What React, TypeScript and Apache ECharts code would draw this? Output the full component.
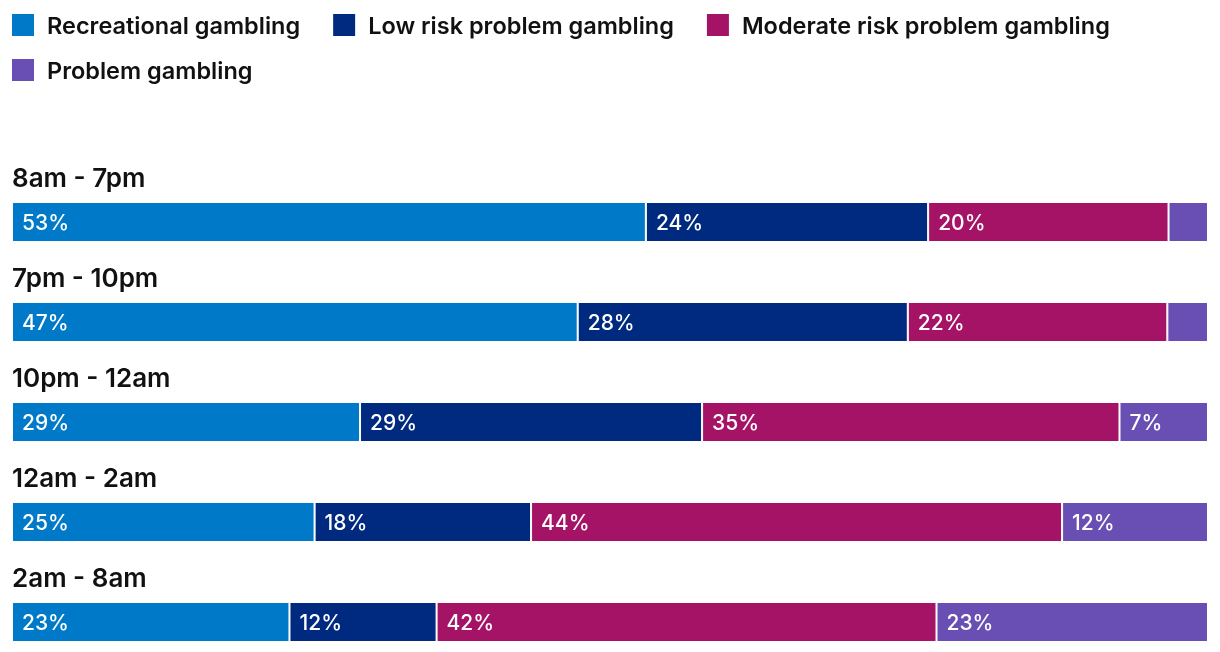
import React, { useEffect, useRef } from "react";
import * as echarts from "echarts";

const categories = ["8am - 7pm", "7pm - 10pm", "10pm - 12am", "12am - 2am", "2am - 8am"];
const seriesNames = [
  "Recreational gambling",
  "Low risk problem gambling",
  "Moderate risk problem gambling",
  "Problem gambling",
];
const recreational = [53.0, 47.3, 29.1, 25.3, 23.2];
const lowRisk = [23.6, 27.6, 28.6, 18.1, 12.3];
const moderateRisk = [20.1, 21.7, 34.9, 44.4, 41.8];
const problem = [3.3, 3.4, 7.4, 12.2, 22.7];
const colors = ["#007AC8", "#002A7F", "#A51366", "#694FB4"];

const FONT = "Inter, 'Noto Sans', sans-serif";

export default function App() {
  const ref = useRef<HTMLDivElement>(null);
  useEffect(() => {
    if (!ref.current) return;
    const chart = echarts.init(ref.current, undefined, { renderer: "svg" });
    const values = [recreational, lowRisk, moderateRisk, problem];
    const legendText = {
      color: "#111",
      fontSize: 23.5,
      fontWeight: 600,
      fontFamily: FONT,
      padding: [0, 0, 0, 7],
    };
    const legendBase = {
      left: 5,
      itemWidth: 24,
      itemHeight: 24,
      itemGap: 31,
      icon: "rect",
      selectedMode: false,
      textStyle: legendText,
    };
    chart.setOption({
      animation: false,
      color: colors,
      legend: [
        { ...legendBase, data: seriesNames.slice(0, 3), top: 7 },
        { ...legendBase, data: seriesNames.slice(3), top: 52 },
      ],
      grid: [
        { left: 12, right: 12, top: 222, height: 400 },
        { left: 12, right: 12, top: 177, height: 400 },
      ],
      xAxis: [
        { type: "value", min: 0, max: 100, show: false, gridIndex: 0 },
        { type: "value", min: 0, max: 100, show: false, gridIndex: 1 },
      ],
      yAxis: [
        {
          type: "category",
          data: categories,
          inverse: true,
          boundaryGap: false,
          show: false,
          gridIndex: 0,
        },
        {
          type: "category",
          data: categories,
          inverse: true,
          boundaryGap: false,
          gridIndex: 1,
          axisLine: { show: false },
          axisTick: { show: false },
          splitLine: { show: false },
          axisLabel: {
            inside: true,
            margin: 0,
            align: "left",
            verticalAlign: "middle",
            color: "#111",
            fontSize: 26,
            fontWeight: 600,
            fontFamily: FONT,
          },
        },
      ],
      series: seriesNames.map((name, i) => ({
        name,
        type: "bar",
        stack: "total",
        barWidth: 40,
        clip: false,
        xAxisIndex: 0,
        yAxisIndex: 0,
        data: values[i],
        itemStyle: { color: colors[i], borderColor: "#fff", borderWidth: 1 },
        label: {
          show: true,
          position: "insideLeft",
          distance: 10,
          color: "#fff",
          fontSize: 21,
          fontWeight: 500,
          fontFamily: FONT,
          formatter: (p: any) => (p.value < 5 ? "" : Math.round(p.value) + "%"),
        },
      })),
    });
    return () => chart.dispose();
  }, []);
  return (
    <div
      ref={ref}
      style={{ position: "fixed", left: 0, top: 0, width: 1220, height: 652 }}
    />
  );
}
